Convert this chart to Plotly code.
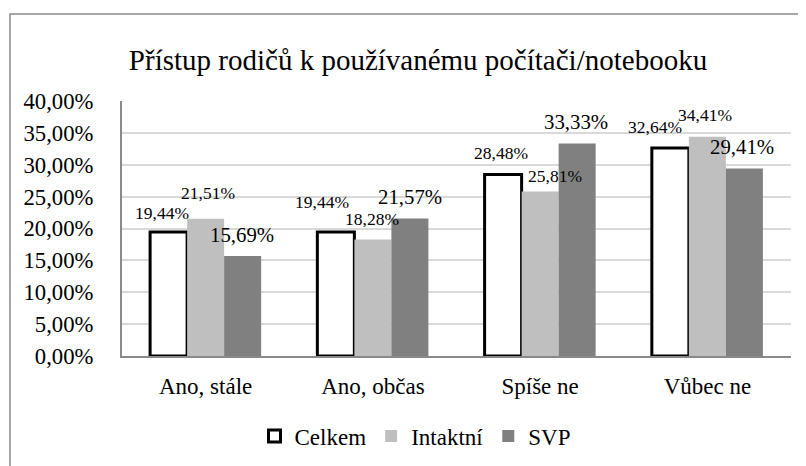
import plotly.graph_objects as go

# ---- data ----
categories = ["Ano, stále", "Ano, občas", "Spíše ne", "Vůbec ne"]
series_names = ["Celkem", "Intaktní", "SVP"]
celkem = [0.1944, 0.1944, 0.2848, 0.3264]
intaktni = [0.2151, 0.1828, 0.2581, 0.3441]
svp = [0.1569, 0.2157, 0.3333, 0.2941]
y_ticks = [0.0, 0.05, 0.10, 0.15, 0.20, 0.25, 0.30, 0.35, 0.40]

# ---- layout / style ----
# the page body adds an 8px offset, so the figure is laid out 8px up/left
OFF = 8
W, H = 806 - OFF, 466 - OFF
ML, MT = 122 - OFF, 101 - OFF
plot_w, plot_h = 669, 255
MR = W - ML - plot_w
MB = H - MT - plot_h
BARGAP = 0.336
bar_px = plot_w / len(categories) * (1 - BARGAP) / 3
FONT = "'Liberation Serif', 'Times New Roman', Times, serif"

fills = ["#ffffff", "#bfbfbf", "#808080"]
lines = ["#000000", "#bfbfbf", "#808080"]
line_w = [3, 0, 0]
label_size = [17.5, 17.5, 20.8]
# manual label nudges (px): dx from bar centre, dy above bar top
nudge_dx = [[-7, -14, -2, -15], [2, -1, 15, -2], [-1, 0, -1, -2]]
nudge_dy = [[19, 30, 21, 21], [26, 20, 15, 22], [21, 22, 22, 22]]

fig = go.Figure()
all_vals = [celkem, intaktni, svp]
for i, (name, vals) in enumerate(zip(series_names, all_vals)):
    fig.add_trace(go.Bar(
        name=name, x=categories, y=vals,
        marker=dict(color=fills[i], line=dict(color=lines[i], width=line_w[i])),
    ))

annotations = []
for i, vals in enumerate(all_vals):
    for j, v in enumerate(vals):
        annotations.append(dict(
            x=categories[j], y=v, xref="x", yref="y",
            text=f"{v*100:.2f}%".replace(".", ","),
            showarrow=False, xanchor="center", yanchor="middle",
            xshift=(i - 1) * bar_px + nudge_dx[i][j], yshift=nudge_dy[i][j],
            font=dict(family=FONT, size=label_size[i], color="#000000"),
        ))

fig.update_layout(
    width=W, height=H,
    margin=dict(l=ML, r=MR, t=MT, b=MB, autoexpand=False),
    paper_bgcolor="#ffffff", plot_bgcolor="#ffffff",
    barmode="group", bargap=BARGAP, bargroupgap=0,
    separators=", ",
    font=dict(family=FONT, size=23, color="#000000"),
    title=dict(text="Přístup rodičů k používanému počítači/notebooku",
               x=(418 - OFF) / W, xref="container", xanchor="center",
               y=1 - (60 - OFF) / H, yref="container", yanchor="middle",
               font=dict(family=FONT, size=29, color="#000000")),
    legend=dict(orientation="h", xref="container", yref="container",
                x=(415 - OFF) / W, xanchor="center", y=1 - (436 - OFF) / H, yanchor="middle",
                font=dict(family=FONT, size=23, color="#000000"),
                itemwidth=30, tracegroupgap=0, traceorder="normal"),
    annotations=annotations,
    shapes=[dict(type="rect", xref="paper", yref="paper",
                 x0=(10 - OFF - ML) / plot_w, x1=(W + 20 - ML) / plot_w,
                 y0=(MT + plot_h - H - 20) / plot_h, y1=(MT + plot_h - (14 - OFF)) / plot_h,
                 line=dict(color="#898989", width=1.5), fillcolor="rgba(0,0,0,0)",
                 layer="below")],
)
fig.update_yaxes(range=[0, 0.40], tickvals=y_ticks, tickformat=".2%",
                 showgrid=True, gridcolor="#d9d9d9", gridwidth=1.5,
                 showline=True, linecolor="#898989", linewidth=2,
                 zeroline=False, ticks="", ticklabelstandoff=22,
                 tickfont=dict(family=FONT, size=22.7, color="#000000"))
fig.update_xaxes(showline=True, linecolor="#898989", linewidth=2,
                 ticks="", ticklabelstandoff=8, showgrid=False,
                 tickfont=dict(family=FONT, size=23, color="#000000"))

fig.write_html("out.html")
